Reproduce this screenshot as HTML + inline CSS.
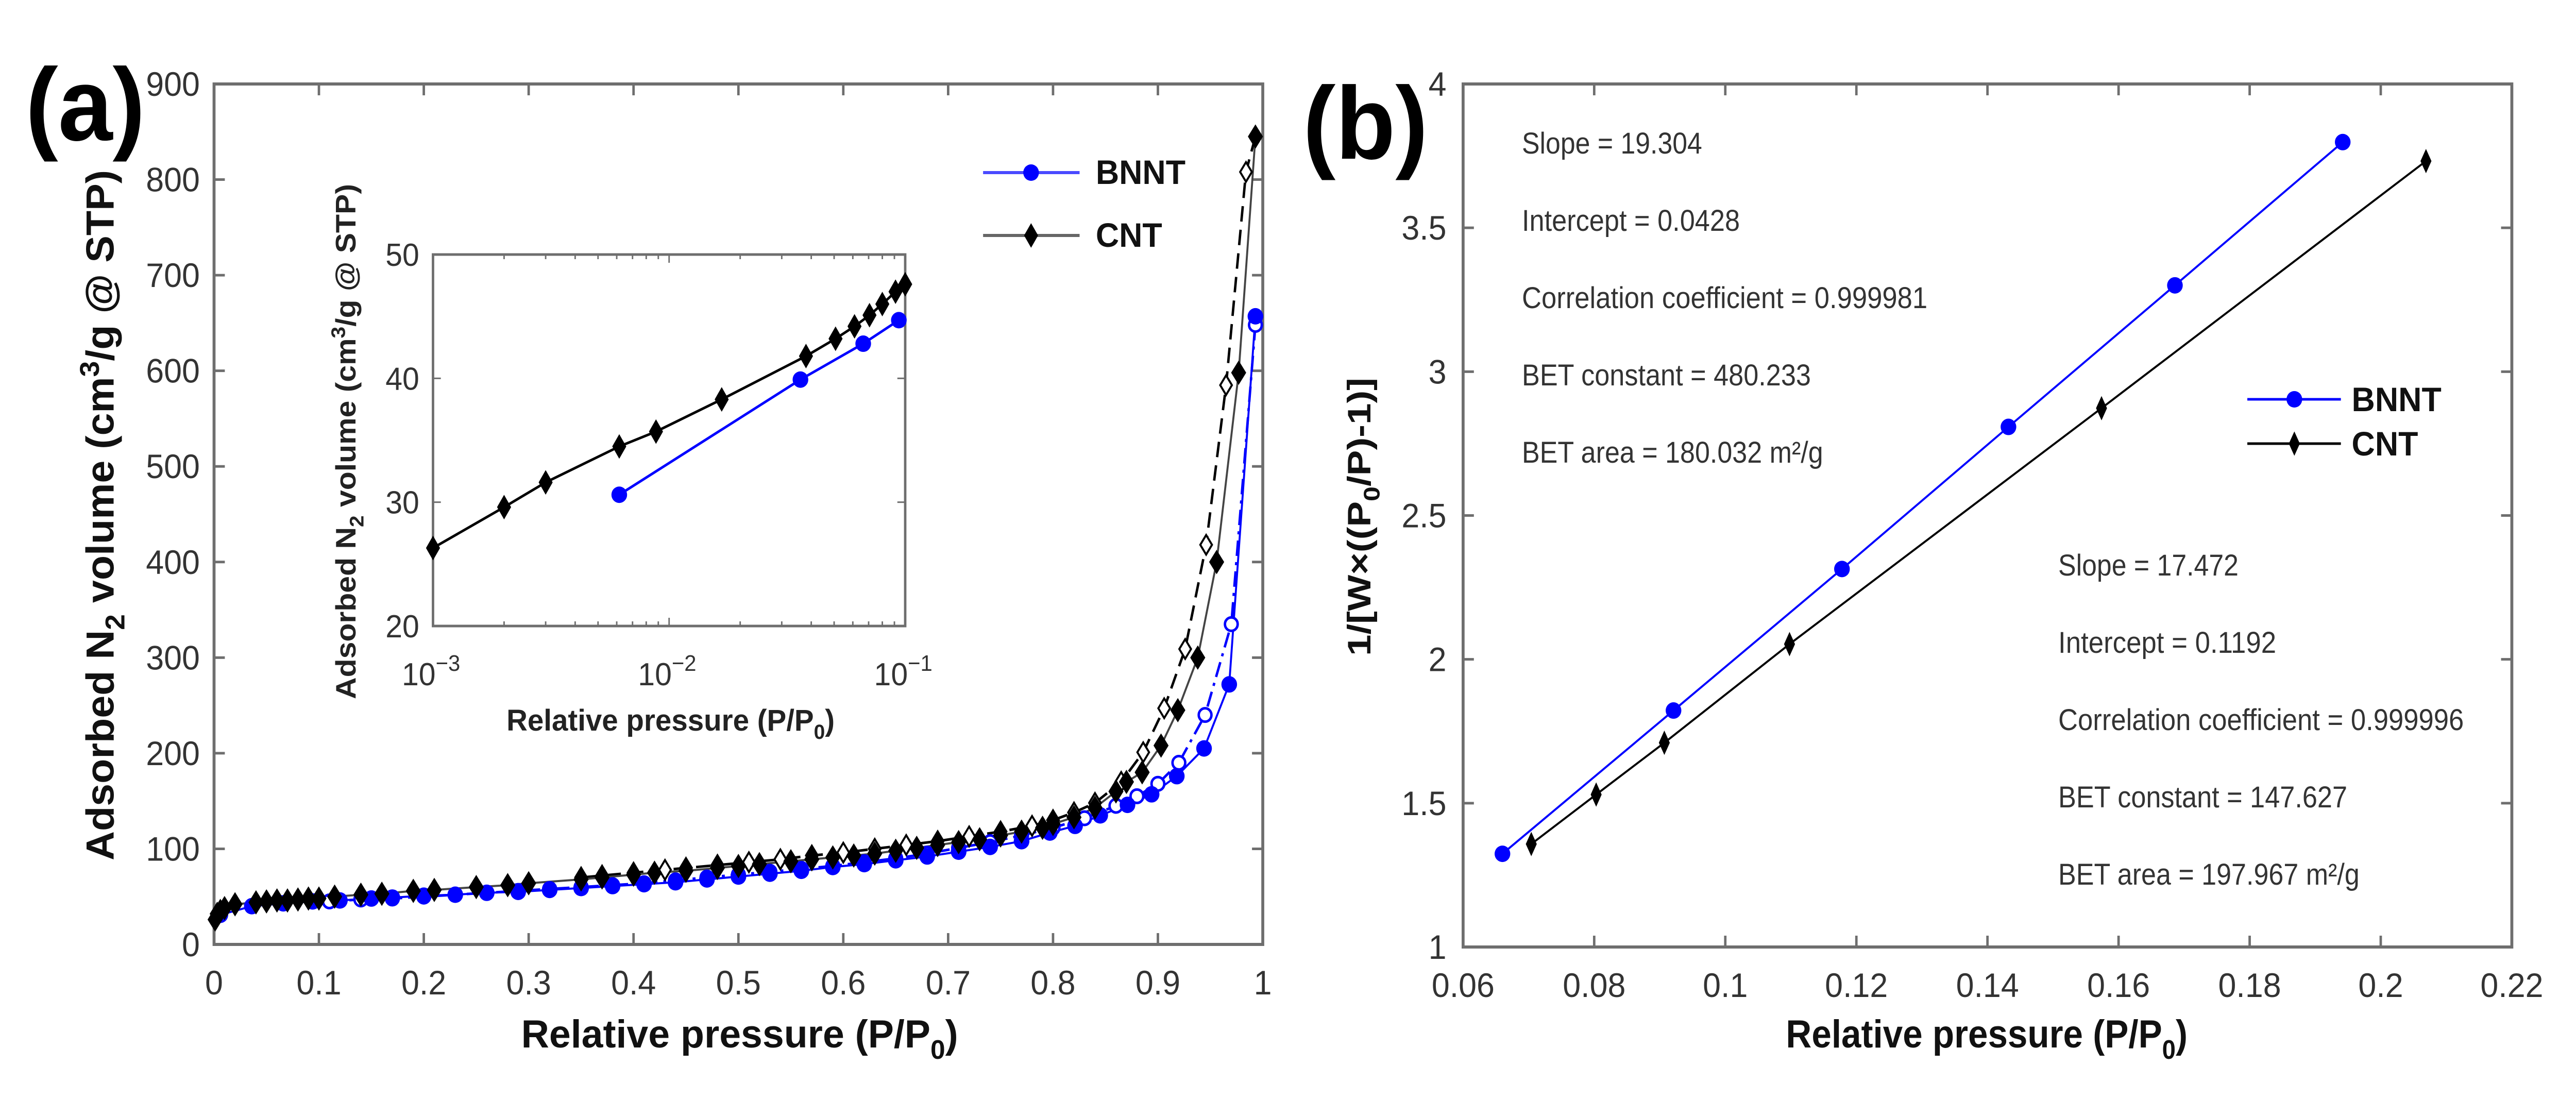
<!DOCTYPE html>
<html><head><meta charset="utf-8"><style>
html,body{margin:0;padding:0;background:#fff;width:100%;height:100%;overflow:hidden;}
svg{display:block;position:fixed;left:0;top:0;width:100vw;height:100vh;font-family:"Liberation Sans",Arial,sans-serif;}
</style></head><body>
<svg id="fig" viewBox="0 0 5259 2133" preserveAspectRatio="none" xmlns="http://www.w3.org/2000/svg">
<rect width="5259" height="2133" fill="#fff"/>
<g id="pa"></g>
<g id="pb"></g>
</svg>
<script>
// ===== Panel (a) data =====
const cntAdsX=[0.001,0.003,0.006,0.01,0.02,0.04,0.05,0.06,0.07,0.08,0.09,0.1,0.115,0.14,0.16,0.19,0.21,0.25,0.28,0.3,0.35,0.37,0.4,0.42,0.45,0.48,0.5,0.52,0.55,0.57,0.59,0.61,0.63,0.65,0.67,0.69,0.71,0.73,0.75,0.77,0.79,0.8,0.82,0.84,0.86,0.87,0.885,0.903,0.919,0.938,0.956,0.977,0.993];
const cntAdsY=[26,32,35,38,42,44,45,46,46,47,48,48,50,52,53,56,57,60,62,64,68,70,73,75,77,80,82,84,87,89,91,93,95,98,101,104,107,110,114,118,122,126,133,143,160,170,180,208,245,300,400,598,845];
const cntDesX=[0.993,0.984,0.965,0.946,0.926,0.906,0.886,0.865,0.84,0.82,0.8,0.78,0.75,0.72,0.69,0.66,0.63,0.6,0.57,0.54,0.51,0.48,0.45,0.43,0.4,0.37,0.35];
const cntDesY=[845,808,585,418,309,247,201,170,148,138,130,124,118,113,108,104,100,96,93,89,86,83,80,78,75,72,70];
const bnAdsX=[0.006,0.036,0.066,0.094,0.12,0.15,0.17,0.2,0.23,0.26,0.29,0.32,0.35,0.38,0.41,0.44,0.47,0.5,0.53,0.56,0.59,0.62,0.65,0.68,0.71,0.74,0.77,0.797,0.821,0.845,0.871,0.894,0.918,0.944,0.968,0.993];
const bnAdsY=[31,40,43,45,46,48,49,51,52,54,55,57,59,61,63,65,68,71,74,77,81,84,88,92,97,102,108,117,124,135,146,157,176,205,272,657];
const bnDesX=[0.993,0.97,0.945,0.92,0.9,0.88,0.86,0.83,0.8,0.77,0.74,0.71,0.68,0.65,0.62,0.59,0.56,0.53,0.5,0.47,0.44,0.41,0.38,0.35,0.32,0.29,0.26,0.23,0.2,0.17,0.14,0.11];
const bnDesY=[648,335,240,190,168,155,145,132,122,114,107,101,95,90,86,82,79,76,73,70,67,64,62,60,58,56,54,52,50,48,47,45];
const aXTicks=[0,0.1,0.2,0.3,0.4,0.5,0.6,0.7,0.8,0.9,1];
const aXTickLabels=["0","0.1","0.2","0.3","0.4","0.5","0.6","0.7","0.8","0.9","1"];
const aYTicks=[0,100,200,300,400,500,600,700,800,900];
// inset data
const inCntX=[0.001,0.002,0.003,0.00615,0.0088,0.0167,0.038,0.0507,0.061,0.0706,0.080,0.091,0.1];
const inCntY=[26.3,29.6,31.6,34.5,35.7,38.3,41.8,43.2,44.2,45.1,46.0,47.0,47.6];
const inBnX=[0.00615,0.036,0.0664,0.094];
const inBnY=[30.6,39.9,42.8,44.7];
const inYTicks=[20,30,40,50];
const inXTickExp=[-3,-2,-1];
// ===== Panel (b) data =====
const bBnX=[0.066,0.0921,0.1178,0.1432,0.1686,0.1942];
const bBnY=[1.324,1.822,2.314,2.808,3.30,3.798];
const bCntX=[0.0704,0.0803,0.0907,0.1098,0.1574,0.2069];
const bCntY=[1.358,1.53,1.71,2.053,2.873,3.732];
const bXTicks=[0.06,0.08,0.1,0.12,0.14,0.16,0.18,0.2,0.22];
const bXTickLabels=["0.06","0.08","0.1","0.12","0.14","0.16","0.18","0.2","0.22"];
const bYTicks=[1,1.5,2,2.5,3,3.5,4];
const bYTickLabels=["1","1.5","2","2.5","3","3.5","4"];
const bnStats=["Slope = 19.304","Intercept = 0.0428","Correlation coefficient = 0.999981","BET constant = 480.233","BET area = 180.032 m\u00b2/g"];
const cntStats=["Slope = 17.472","Intercept = 0.1192","Correlation coefficient = 0.999996","BET constant = 147.627","BET area = 197.967 m\u00b2/g"];

const NS="http://www.w3.org/2000/svg";
function mk(parent,tag,attrs){const e=document.createElementNS(NS,tag);for(const k in attrs)e.setAttribute(k,attrs[k]);parent.appendChild(e);return e;}
function txt(parent,x,y,s,size,anchor,weight,fill){const t=mk(parent,'text',{x:x,y:y,'font-size':size,'text-anchor':anchor||'start','font-weight':weight||'normal',fill:fill||'#333'});t.textContent=s;return t;}
const AX='#6e6e6e';

function frame(g,L,T,R,B){mk(g,'rect',{x:L,y:T,width:R-L,height:B-T,fill:'none',stroke:AX,'stroke-width':6});}
function diamond(g,x,y,w,h,fill){return mk(g,'polygon',{points:`${x},${y-h} ${x+w},${y} ${x},${y+h} ${x-w},${y}`,fill:fill,stroke:'#000','stroke-width':4});}
function pathOf(xs,ys,sx,sy){return xs.map((v,i)=>(i?'L':'M')+sx(v).toFixed(1)+','+sy(ys[i]).toFixed(1)).join(' ');}

// ===== Panel A =====
const pa=document.getElementById('pa');
const aL=437,aR=2578,aT=163,aB=1833;
const ax=v=>aL+v*(aR-aL), ay=v=>aB-v/900*(aB-aT);
let t=txt(pa,52,272,'(a)',200,'start','bold','#000');

frame(pa,aL,aT,aR,aB);
aXTicks.forEach((v,i)=>{const x=ax(v);
 mk(pa,'line',{x1:x,y1:aB,x2:x,y2:aB-22,stroke:AX,'stroke-width':5});
 mk(pa,'line',{x1:x,y1:aT,x2:x,y2:aT+22,stroke:AX,'stroke-width':5});
 const l=txt(pa,x,1930,aXTickLabels[i],66,'middle');
 });
aYTicks.forEach(v=>{const y=ay(v);
 mk(pa,'line',{x1:aL,y1:y,x2:aL+22,y2:y,stroke:AX,'stroke-width':5});
 mk(pa,'line',{x1:aR,y1:y,x2:aR-22,y2:y,stroke:AX,'stroke-width':5});
 const l=txt(pa,408,y+23,String(v),66,'end');
 });
// axis titles
t=txt(pa,1510,2033,'',76,'middle','bold','#111');
t.innerHTML='Relative pressure (P/P<tspan font-size="52" dy="22">0</tspan><tspan dy="-22">)</tspan>';
t.setAttribute('textLength','892');t.setAttribute('lengthAdjust','spacingAndGlyphs');

t=txt(pa,0,0,'',80,'middle','bold','#111');
t.innerHTML='Adsorbed N<tspan font-size="56" dy="22">2</tspan><tspan dy="-22"> volume (cm</tspan><tspan font-size="56" dy="-30">3</tspan><tspan dy="30">/g @ STP)</tspan>';
t.setAttribute('transform','translate(232,1000) rotate(-90)');
t.setAttribute('textLength','1340');t.setAttribute('lengthAdjust','spacingAndGlyphs');

// series
const sa=mk(pa,'g',{});

let p=mk(sa,'path',{d:pathOf(bnDesX,bnDesY,ax,ay),fill:'none',stroke:'#0000ff','stroke-width':5,'stroke-dasharray':'30,12,6,12'});

p=mk(sa,'path',{d:pathOf(bnAdsX,bnAdsY,ax,ay),fill:'none',stroke:'#0000ff','stroke-width':4});

p=mk(sa,'path',{d:pathOf(cntDesX,cntDesY,ax,ay),fill:'none',stroke:'#000','stroke-width':5,'stroke-dasharray':'30,16'});

p=mk(sa,'path',{d:pathOf(cntAdsX,cntAdsY,ax,ay),fill:'none',stroke:'#444','stroke-width':4});

bnDesX.forEach((v,i)=>{const c=mk(sa,'circle',{cx:ax(v),cy:ay(bnDesY[i]),r:13,fill:'#fff',stroke:'#0000ff','stroke-width':5});
 });
bnAdsX.forEach((v,i)=>{const c=mk(sa,'circle',{cx:ax(v),cy:ay(bnAdsY[i]),r:16,fill:'#0000ff'});
 });
cntDesX.forEach((v,i)=>{const d=diamond(sa,ax(v),ay(cntDesY[i]),12,19,'#fff');
 });
cntAdsX.forEach((v,i)=>{const d=diamond(sa,ax(v),ay(cntAdsY[i]),13,20,'#000');
 });
// legend
const lg=mk(pa,'g',{});

mk(lg,'line',{x1:2007,y1:335,x2:2204,y2:335,stroke:'#4a4aff','stroke-width':6});
mk(lg,'circle',{cx:2105,cy:335,r:16,fill:'#0000ff'});
t=txt(lg,2237,357,'BNNT',66,'start','bold','#111');
mk(lg,'line',{x1:2007,y1:457,x2:2204,y2:457,stroke:'#666','stroke-width':6});
diamond(lg,2105,457,12,20,'#000');
t=txt(lg,2237,479,'CNT',66,'start','bold','#111');
// inset
const ins=mk(pa,'g',{});

const iL=884,iR=1848,iT=494,iB=1215;
const ix=v=>iL+(Math.log10(v)+3)/2*(iR-iL), iy=v=>iB-(v-20)/30*(iB-iT);
mk(ins,'rect',{x:iL,y:iT,width:iR-iL,height:iB-iT,fill:'#fff',stroke:AX,'stroke-width':5});
for(let d=-3;d<-1;d++){for(let m=1;m<10;m++){const x=ix(m*Math.pow(10,d));const len=m===1?16:9;
 mk(ins,'line',{x1:x,y1:iB,x2:x,y2:iB-len,stroke:AX,'stroke-width':3});
 mk(ins,'line',{x1:x,y1:iT,x2:x,y2:iT+len,stroke:AX,'stroke-width':3});}}
inXTickExp.forEach(e=>{const x=ix(Math.pow(10,e));
 const l=txt(ins,x-4,1330,'',62,'middle');l.innerHTML='10<tspan font-size="44" dy="-28">'+(e<0?'\u2212':'')+Math.abs(e)+'</tspan>';
 });
inYTicks.forEach(v=>{const y=iy(v);
 mk(ins,'line',{x1:iL,y1:y,x2:iL+16,y2:y,stroke:AX,'stroke-width':3});
 mk(ins,'line',{x1:iR,y1:y,x2:iR-16,y2:y,stroke:AX,'stroke-width':3});
 const l=txt(ins,856,y+22,String(v),62,'end');});
t=txt(ins,1369,1418,'',58,'middle','bold','#222');
t.innerHTML='Relative pressure (P/P<tspan font-size="40" dy="16">0</tspan><tspan dy="-16">)</tspan>';
t.setAttribute('textLength','670');t.setAttribute('lengthAdjust','spacingAndGlyphs');

t=txt(ins,0,0,'',58,'middle','bold','#222');
t.innerHTML='Adsorbed N<tspan font-size="40" dy="16">2</tspan><tspan dy="-16"> volume (cm</tspan><tspan font-size="40" dy="-22">3</tspan><tspan dy="22">/g @ STP)</tspan>';
t.setAttribute('transform','translate(726,857) rotate(-90)');
t.setAttribute('textLength','1000');t.setAttribute('lengthAdjust','spacingAndGlyphs');

p=mk(ins,'path',{d:pathOf(inCntX,inCntY,ix,iy),fill:'none',stroke:'#000','stroke-width':5});

p=mk(ins,'path',{d:pathOf(inBnX,inBnY,ix,iy),fill:'none',stroke:'#0000ff','stroke-width':5});

inCntX.forEach((v,i)=>{const d=diamond(ins,ix(v),iy(inCntY[i]),12,20,'#000');
 });
inBnX.forEach((v,i)=>{const c=mk(ins,'circle',{cx:ix(v),cy:iy(inBnY[i]),r:16,fill:'#0000ff'});
 });

// ===== Panel B =====
const pb=document.getElementById('pb');
const bL=2987,bR=5128,bT=163,bB=1838;
const bx=v=>bL+(v-0.06)/0.16*(bR-bL), by=v=>bB-(v-1)/3*(bB-bT);
t=txt(pb,2660,308,'(b)',200,'start','bold','#000');

frame(pb,bL,bT,bR,bB);
bXTicks.forEach((v,i)=>{const x=bx(v);
 mk(pb,'line',{x1:x,y1:bB,x2:x,y2:bB-22,stroke:AX,'stroke-width':5});
 mk(pb,'line',{x1:x,y1:bT,x2:x,y2:bT+22,stroke:AX,'stroke-width':5});
 const l=txt(pb,x,1935,bXTickLabels[i],66,'middle');
 });
bYTicks.forEach((v,i)=>{const y=by(v);
 mk(pb,'line',{x1:bL,y1:y,x2:bL+22,y2:y,stroke:AX,'stroke-width':5});
 mk(pb,'line',{x1:bR,y1:y,x2:bR-22,y2:y,stroke:AX,'stroke-width':5});
 const l=txt(pb,2953,y+23,bYTickLabels[i],66,'end');
 });
t=txt(pb,4056,2033,'',76,'middle','bold','#111');
t.innerHTML='Relative pressure (P/P<tspan font-size="52" dy="22">0</tspan><tspan dy="-22">)</tspan>';
t.setAttribute('textLength','820');t.setAttribute('lengthAdjust','spacingAndGlyphs');

t=txt(pb,0,0,'',66,'middle','bold','#111');
t.innerHTML='1/[W\u00d7((P<tspan font-size="46" dy="18">0</tspan><tspan dy="-18">/P)-1)]</tspan>';
t.setAttribute('transform','translate(2798,1003) rotate(-90)');
t.setAttribute('textLength','540');t.setAttribute('lengthAdjust','spacingAndGlyphs');

const sb=mk(pb,'g',{});

p=mk(sb,'path',{d:pathOf(bBnX,bBnY,bx,by),fill:'none',stroke:'#0000ff','stroke-width':4});

p=mk(sb,'path',{d:pathOf(bCntX,bCntY,bx,by),fill:'none',stroke:'#000','stroke-width':4});

bBnX.forEach((v,i)=>{const c=mk(sb,'circle',{cx:bx(v),cy:by(bBnY[i]),r:16,fill:'#0000ff'});
 });
bCntX.forEach((v,i)=>{const d=diamond(sb,bx(v),by(bCntY[i]),9,19,'#000');
 });
// stats text
const stW=[368,445,828,590,615];
bnStats.forEach((s,i)=>{const l=txt(pb,3107,298+i*150,s,58,'start','normal','#333');
 l.setAttribute('textLength',stW[i]);l.setAttribute('lengthAdjust','spacingAndGlyphs');
 });
cntStats.forEach((s,i)=>{const l=txt(pb,4202,1117+i*150,s,58,'start','normal','#333');
 l.setAttribute('textLength',stW[i]);l.setAttribute('lengthAdjust','spacingAndGlyphs');
 });
// legend b
const lb=mk(pb,'g',{});

mk(lb,'line',{x1:4588,y1:775,x2:4779,y2:775,stroke:'#0000ff','stroke-width':5});
mk(lb,'circle',{cx:4684,cy:775,r:16,fill:'#0000ff'});
t=txt(lb,4801,798,'BNNT',66,'start','bold','#111');
mk(lb,'line',{x1:4588,y1:861,x2:4779,y2:861,stroke:'#000','stroke-width':5});
diamond(lb,4684,861,9,19,'#000');
t=txt(lb,4801,884,'CNT',66,'start','bold','#111');
</script>
</body></html>
